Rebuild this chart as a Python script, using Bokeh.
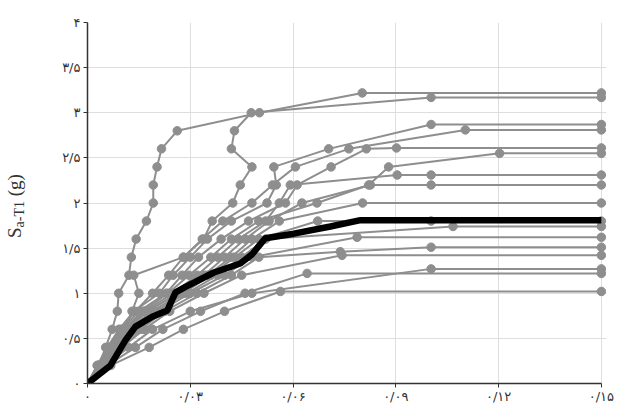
from bokeh.plotting import figure
from bokeh.models import Range1d, FixedTicker, Div
from bokeh.layouts import row
from bokeh.embed import file_html
from bokeh.resources import INLINE

# ---- tick values / labels (Persian digits) ----
x_ticks = [0, 0.03, 0.06, 0.09, 0.12, 0.15]
x_tick_labels = ["۰", "۰/۰۳", "۰/۰۶", "۰/۰۹", "۰/۱۲", "۰/۱۵"]
y_ticks = [0, 0.5, 1, 1.5, 2, 2.5, 3, 3.5, 4]
y_tick_labels = ["۰", "۰/۵", "۱", "۱/۵", "۲", "۲/۵", "۳", "۳/۵", "۴"]

# ---- individual IDA curves: drift (x) and Sa (y) ----
gm01_drift = [0, .0033, .0053, .0072, .0087, .0091, .0121, .0128, .0142, .0172, .0192, .0192, .0203, .0216, .0262, .0502, .0802, .15]
gm01_sa = [0, .2, .4, .6, .8, 1.0, 1.2, 1.4, 1.6, 1.8, 2.0, 2.2, 2.4, 2.6, 2.8, 3.0, 3.22, 3.22]

gm02_drift = [0, .0040, .0075, .0110, .0130, .0150, .0135, .0280, .0335, .0395, .0480, .0540, .0607, .0763, .1103, .15]
gm02_sa = [0, .2, .4, .6, .8, 1.0, 1.2, 1.4, 1.6, 1.8, 2.0, 2.2, 2.4, 2.6, 2.81, 2.81]

gm03_drift = [0, .0030, .0062, .0095, .0140, .0190, .0237, .0280, .0339, .0364, .0424, .0446, .0480, .0420, .0429, .0478, .1003, .15]
gm03_sa = [0, .2, .4, .6, .8, 1.0, 1.2, 1.4, 1.6, 1.8, 2.0, 2.2, 2.4, 2.6, 2.8, 3.0, 3.17, 3.17]

gm04_drift = [0, .0028, .0058, .0092, .0135, .0210, .0250, .0300, .0350, .0420, .0524, .0551, .0544, .0704, .1003, .15]
gm04_sa = [0, .2, .4, .6, .8, 1.0, 1.2, 1.4, 1.6, 1.8, 2.0, 2.2, 2.4, 2.6, 2.87, 2.87]

gm05_drift = [0, .0031, .0065, .0100, .0150, .0230, .0276, .0324, .0390, .0470, .0578, .0612, .0711, .0814, .0902, .15]
gm05_sa = [0, .2, .4, .6, .8, 1.0, 1.2, 1.4, 1.6, 1.8, 2.0, 2.2, 2.4, 2.6, 2.61, 2.61]

gm06_drift = [0, .0030, .0066, .0105, .0160, .0236, .0296, .0360, .0420, .0500, .0670, .0821, .0879, .1203, .15]
gm06_sa = [0, .2, .4, .6, .8, 1.0, 1.2, 1.4, 1.6, 1.8, 2.0, 2.2, 2.4, 2.55, 2.55]

gm07_drift = [0, .0034, .0070, .0110, .0165, .0250, .0320, .0380, .0440, .0520, .0560, .0592, .0904, .1003, .15]
gm07_sa = [0, .2, .4, .6, .8, 1.0, 1.2, 1.4, 1.6, 1.8, 2.0, 2.2, 2.31, 2.31, 2.31]

gm08_drift = [0, .0036, .0075, .0118, .0175, .0262, .0340, .0400, .0460, .0530, .0626, .0826, .1003, .15]
gm08_sa = [0, .2, .4, .6, .8, 1.0, 1.2, 1.4, 1.6, 1.8, 2.0, 2.2, 2.2, 2.2]

gm09_drift = [0, .0035, .0072, .0115, .0170, .0270, .0350, .0420, .0480, .0560, .0803, .15]
gm09_sa = [0, .2, .4, .6, .8, 1.0, 1.2, 1.4, 1.6, 1.8, 2.0, 2.0]

gm10_drift = [0, .0038, .0080, .0125, .0185, .0280, .0360, .0430, .0500, .0672, .1003, .15]
gm10_sa = [0, .2, .4, .6, .8, 1.0, 1.2, 1.4, 1.6, 1.8, 1.8, 1.8]

gm11_drift = [0, .0040, .0085, .0135, .0195, .0290, .0380, .0450, .0520, .1067, .15]
gm11_sa = [0, .2, .4, .6, .8, 1.0, 1.2, 1.4, 1.6, 1.74, 1.74]

gm12_drift = [0, .0042, .0090, .0145, .0210, .0300, .0400, .0480, .0787, .15]
gm12_sa = [0, .2, .4, .6, .8, 1.0, 1.2, 1.4, 1.62, 1.62]

gm13_drift = [0, .0045, .0095, .0155, .0225, .0320, .0420, .0500, .0738, .1003, .15]
gm13_sa = [0, .2, .4, .6, .8, 1.0, 1.2, 1.4, 1.46, 1.51, 1.51]

gm14_drift = [0, .0048, .0100, .0165, .0240, .0340, .0450, .0743, .15]
gm14_sa = [0, .2, .4, .6, .8, 1.0, 1.2, 1.42, 1.42]

gm15_drift = [0, .0052, .0120, .0190, .0300, .0480, .1003, .15]
gm15_sa = [0, .2, .4, .6, .8, 1.0, 1.27, 1.27]

gm16_drift = [0, .0058, .0140, .0220, .0330, .0460, .0641, .15]
gm16_sa = [0, .2, .4, .6, .8, 1.0, 1.22, 1.22]

gm17_drift = [0, .0068, .0180, .0280, .0400, .0563, .15]
gm17_sa = [0, .2, .4, .6, .8, 1.02, 1.02]

# ---- median curve ----
median_drift = [0, .0067, .0111, .0140, .0189, .0233, .0257, .0286, .0369, .0446, .0480, .0519, .0602, .0709, .0797, .15]
median_sa = [0, .20, .48, .63, .74, .81, 1.01, 1.07, 1.23, 1.33, 1.43, 1.61, 1.66, 1.74, 1.81, 1.81]

curves = [
    (gm01_drift, gm01_sa), (gm02_drift, gm02_sa), (gm03_drift, gm03_sa),
    (gm04_drift, gm04_sa), (gm05_drift, gm05_sa), (gm06_drift, gm06_sa),
    (gm07_drift, gm07_sa), (gm08_drift, gm08_sa), (gm09_drift, gm09_sa),
    (gm10_drift, gm10_sa), (gm11_drift, gm11_sa), (gm12_drift, gm12_sa),
    (gm13_drift, gm13_sa), (gm14_drift, gm14_sa), (gm15_drift, gm15_sa),
    (gm16_drift, gm16_sa), (gm17_drift, gm17_sa),
]

GRAY = "#8e8e8e"
TEXT = "#333333"
TITLE_W = 40

p = figure(width=626 - TITLE_W, height=407, output_backend="svg", toolbar_location=None,
           x_range=Range1d(0, 0.1515), y_range=Range1d(0, 4),
           min_border_left=87 - TITLE_W, min_border_right=20, min_border_top=22, min_border_bottom=24)
p.outline_line_color = None
p.background_fill_color = "white"

for dx, sy in curves:
    p.line(dx, sy, line_color=GRAY, line_width=2)
    p.scatter(dx, sy, size=8.5, fill_color=GRAY, line_color=GRAY)

p.line(median_drift, median_sa, line_color="black", line_width=6.5)

# axes
p.xaxis.ticker = FixedTicker(ticks=x_ticks)
p.yaxis.ticker = FixedTicker(ticks=y_ticks)
p.xaxis.major_label_overrides = {t: l for t, l in zip(x_ticks, x_tick_labels)}
p.yaxis.major_label_overrides = {t: l for t, l in zip(y_ticks, y_tick_labels)}
p.xaxis.bounds = (0, 0.15)
for ax in (p.xaxis, p.yaxis):
    ax.axis_line_color = "#333333"
    ax.axis_line_width = 1.5
    ax.major_tick_line_color = "#333333"
    ax.major_tick_in = 0
    ax.major_tick_out = 4
    ax.minor_tick_line_color = None
    ax.major_label_text_font = "DejaVu Sans"
    ax.major_label_text_font_size = "13px"
    ax.major_label_text_color = TEXT
p.xaxis.major_label_standoff = 1
p.yaxis.major_label_standoff = 3

p.xgrid.ticker = FixedTicker(ticks=x_ticks)
p.ygrid.ticker = FixedTicker(ticks=y_ticks)
p.grid.grid_line_color = "#dedede"
p.grid.grid_line_width = 1

# y axis title: S with subscript a-T1, then (g) — rotated HTML text
title_html = (
    '<div style="position:absolute; left:4px; top:238px; transform:rotate(-90deg); '
    'transform-origin:0 0; white-space:nowrap; font-family:\'Liberation Serif\', serif; '
    'font-size:19px; line-height:22px; color:#333333;">'
    'S<sub style="font-size:14px; vertical-align:-3px;">a-T1</sub> (g)</div>'
)
title_div = Div(text=title_html, width=TITLE_W, height=407, margin=0,
                styles={"position": "relative", "overflow": "visible"})

layout = row(title_div, p, spacing=0)
open("out.html", "w").write(file_html(layout, INLINE))
